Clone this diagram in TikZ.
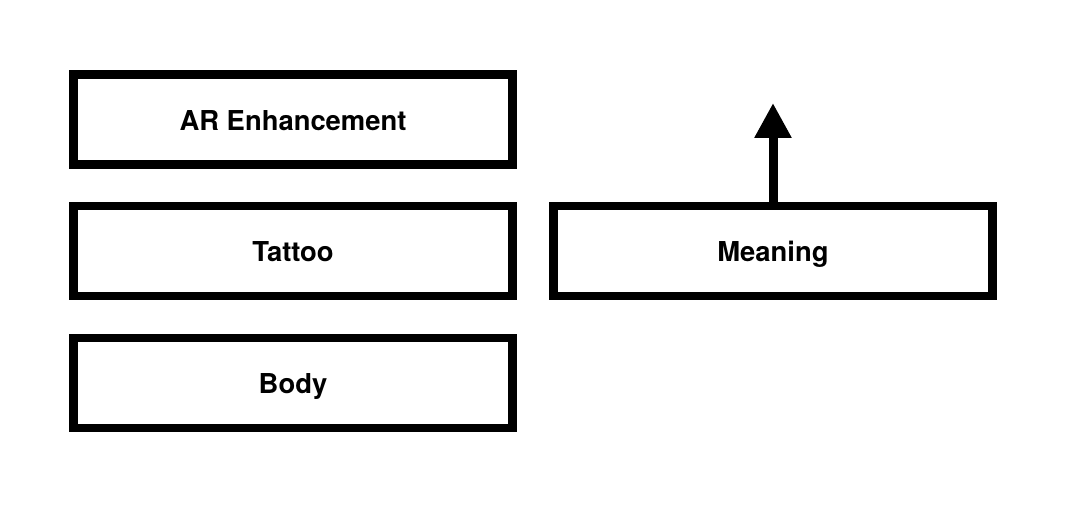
\documentclass[tikz,border=0pt]{standalone}
\usepackage{fontspec}
\setmainfont{TeX Gyre Heros}
\usetikzlibrary{arrows.meta}
\tikzset{
  layer/.style={draw, line width=0.087cm, minimum width=4.395cm, minimum height=0.9cm,
    inner sep=0pt, text height=0.6em, text depth=0pt,
    font=\fontsize{7.8}{9}\selectfont\bfseries},
  up/.style={line width=0.09cm, -{Triangle[width=0.35cm,length=0.35cm]}}
}

\begin{document}
\begin{tikzpicture}
  \useasboundingbox (0,0) rectangle (10.7,5.08);
  % left stack
  \node[layer] at(2.93,3.885)(ar){AR Enhancement};
  \node[layer] at(2.93,2.57)(tattoo){Tattoo};
  \node[layer] at(2.93,1.25)(body){Body};
  % right side
  \node[layer] at(7.73,2.57)(meaning){Meaning};
  \coordinate (above) at(7.73,4.05);
  % arrow
  \draw[up] (meaning.north) -- (above);
\end{tikzpicture}
\end{document}
